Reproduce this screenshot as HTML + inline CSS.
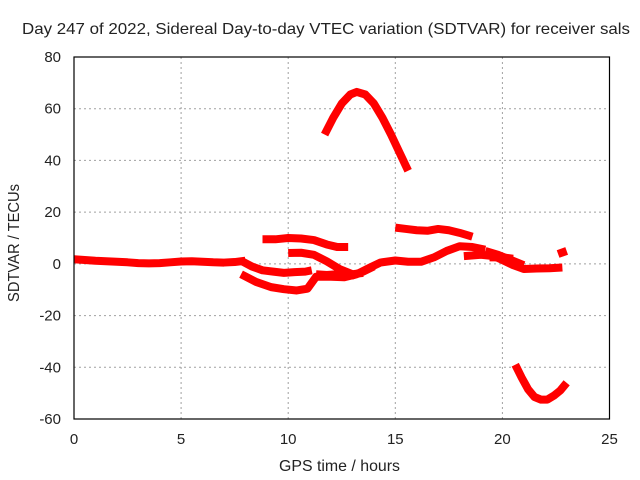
<!DOCTYPE html>
<html><head><meta charset="utf-8"><style>
html,body{margin:0;padding:0;background:#fff}
svg{display:block;font-family:"Liberation Sans",sans-serif}
</style></head><body>
<svg id="chart" width="640" height="480">
<rect width="640" height="480" fill="#fff"/>
<g id="grid"></g>
<g id="series"></g>
<rect x="74" y="57" width="535.5" height="362" fill="none" stroke="#000" stroke-width="1.2"/>
<g id="ticks" font-size="15" fill="#222"></g>
<text x="22" y="34" textLength="608" lengthAdjust="spacingAndGlyphs" font-size="16" fill="#222">Day 247 of 2022, Sidereal Day-to-day VTEC variation (SDTVAR) for receiver sals</text>
<text x="279" y="471" textLength="121" lengthAdjust="spacingAndGlyphs" font-size="16" fill="#222">GPS time / hours</text>
<text transform="translate(19,302) rotate(-90)" textLength="118" lengthAdjust="spacingAndGlyphs" font-size="16" fill="#222">SDTVAR / TECUs</text>
</svg>
<script>
const xTicks=[0,5,10,15,20,25];
const yTicks=[80,60,40,20,0,-20,-40,-60];
const mainH=[0,0.5,1,1.5,2,2.5,3,3.5,4,4.5,5,5.5,6,6.5,7,7.5,8];
const mainV=[1.8,1.5,1.2,1,0.8,0.6,0.3,0.2,0.3,0.6,0.9,1,0.8,0.6,0.5,0.7,1.2];
const branch1H=[7.8,8.3,8.8,9.3,9.8,10.3,10.8,11.1];
const branch1V=[1.2,-1,-2.5,-3,-3.5,-3.2,-3,-2.5];
const lowH=[7.8,8.5,9.2,9.8,10.4,10.9,11.3,12,12.6,13.2,13.8,14.3,15,15.6,16.2,16.8,17.4,18,18.6,19.2];
const lowV=[-4,-7,-9,-9.8,-10.3,-9.6,-5,-5,-5.2,-4,-1.5,0.5,1.3,0.8,0.8,2.5,5,6.8,6.5,5.5];
const midH=[10,10.6,11.2,11.8,12.4,13,13.5];
const midV=[4.2,4.3,3.5,1,-2,-4,-3.5];
const upH=[8.8,9.4,10,10.6,11.2,11.8,12.3,12.8];
const upV=[9.5,9.5,10,9.8,9.2,7.5,6.5,6.5];
const midLowH=[11.3,11.8,12.3,13,13.5,14];
const midLowV=[-4,-4.3,-4,-4.5,-3,-1];
const upperRH=[15,15.5,16,16.5,17,17.5,18,18.6];
const upperRV=[14,13.5,13,12.8,13.5,13,12,10.5];
const tailH=[18.2,19,19.6,20,20.5,21,21.6,22.2,22.8];
const tailV=[3,3.5,3,1.5,-0.5,-2,-1.8,-1.7,-1.4];
const tail2H=[19.2,19.8,20.4,21];
const tail2V=[5,3.5,1.5,-0.5];
const tail3H=[19.4,20,20.5];
const tail3V=[2.5,2.5,2];
const spikeH=[22.6,23];
const spikeV=[3.8,5];
const arcH=[11.7,12.1,12.5,12.9,13.2,13.6,14,14.4,14.8,15.2,15.6];
const arcV=[50,56.5,62,65.5,66.5,65.5,62,56.5,50,43,36];
const negH=[20.6,20.9,21.2,21.5,21.8,22.1,22.4,22.7,23];
const negV=[-39,-44,-48.5,-51.5,-52.5,-52.5,-51,-49,-46];
const seriesList=[[mainH,mainV],[branch1H,branch1V],[lowH,lowV],[midH,midV],[upH,upV],[midLowH,midLowV],[upperRH,upperRV],[tailH,tailV],[tail2H,tail2V],[tail3H,tail3V],[spikeH,spikeV],[arcH,arcV],[negH,negV]];
const X0=74,X1=609.5,Y0=57,Y1=419;
const xs=h=>X0+(h-0)/(25-0)*(X1-X0);
const ys=v=>Y1-(v+60)/(140)*(Y1-Y0);
const NS='http://www.w3.org/2000/svg';
const grid=document.getElementById('grid'),ticks=document.getElementById('ticks'),ser=document.getElementById('series');
xTicks.forEach(t=>{
  const x=xs(t);
  if(t>0&&t<25){
    const l=document.createElementNS(NS,'line');
    
    
    l.setAttribute('x1',x);l.setAttribute('x2',x);l.setAttribute('y1',Y0);l.setAttribute('y2',Y1);
    l.setAttribute('stroke','#a0a0a0');l.setAttribute('stroke-dasharray','2,3');
    grid.appendChild(l);
  }
  const tx=document.createElementNS(NS,'text');
  
  
  tx.setAttribute('x',x);tx.setAttribute('y',444);tx.setAttribute('text-anchor','middle');
  tx.textContent=t;ticks.appendChild(tx);
});
yTicks.forEach(t=>{
  const y=ys(t);
  if(t<80&&t>-60){
    const l=document.createElementNS(NS,'line');
    
    
    l.setAttribute('x1',X0);l.setAttribute('x2',X1);l.setAttribute('y1',y);l.setAttribute('y2',y);
    l.setAttribute('stroke','#a0a0a0');l.setAttribute('stroke-dasharray','2,3');
    grid.appendChild(l);
  }
  const tx=document.createElementNS(NS,'text');
  
  
  tx.setAttribute('x',61);tx.setAttribute('y',y+5);tx.setAttribute('text-anchor','end');
  tx.textContent=t;ticks.appendChild(tx);
});
seriesList.forEach(([H,V])=>{
  const p=document.createElementNS(NS,'polyline');
  
  
  p.setAttribute('points',H.map((h,i)=>xs(h)+','+ys(V[i])).join(' '));
  p.setAttribute('fill','none');p.setAttribute('stroke','#ff0000');
  p.setAttribute('stroke-width','8');p.setAttribute('stroke-linejoin','round');
  ser.appendChild(p);
});
</script>
</body></html>
